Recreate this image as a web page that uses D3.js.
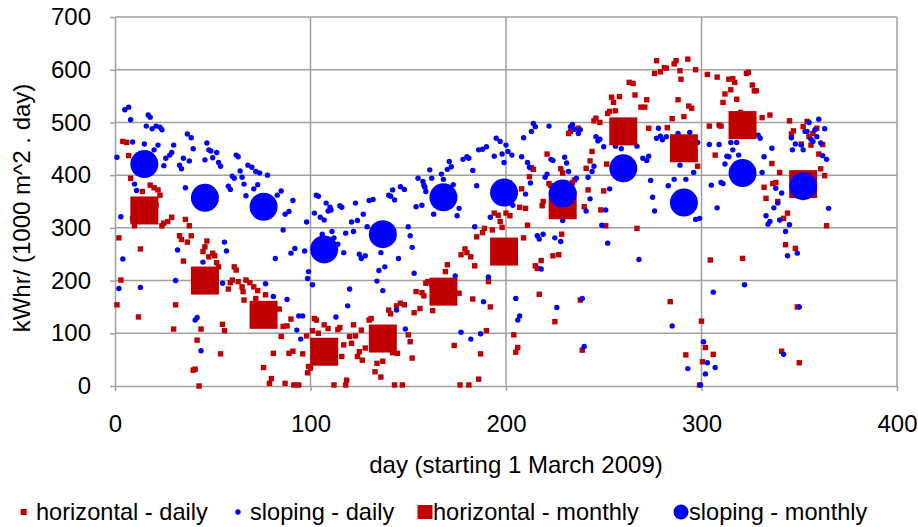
<!DOCTYPE html>
<html>
<head>
<meta charset="utf-8">
<script src="https://cdn.jsdelivr.net/npm/d3@7/dist/d3.min.js"></script>
<style>
  body { margin: 0; background: #fff; }
  text { font-family: Arial, "Liberation Sans", sans-serif; fill: #000; }
</style>
</head>
<body>
<svg width="918" height="527"></svg>
<script>

// monthly means, plotted at mid month (day 0 = 1 March 2009)
var monthDays = [15, 46, 76, 107, 137, 168, 199, 229, 260, 291, 321, 352];
var horizontalMonthly = [333, 200, 135, 65, 90, 179, 255, 343, 483, 451, 495, 383];
var slopingMonthly = [421, 357, 340, 259, 288, 358, 367, 365, 413, 348, 404, 379];

// daily readings [day, kWhr]
var horizontalDaily = [
  [1,154],[2,281],[3,201],[4,464],[6,462],[7,437],[8,394],[9,318],[10,304],[12,131],
  [13,260],[14,369],[18,381],[20,376],[21,343],[22,372],[23,362],[24,304],[25,309],[27,312],
  [29,320],[30,108],[31,154],[33,285],[34,278],[35,237],[36,316],[37,273],[38,304],[39,285],
  [40,30],[41,32],[42,87],[43,0],[44,108],[45,255],[46,264],[47,275],[48,245],[50,252],
  [51,247],[52,234],[53,226],[54,61],[55,117],[56,105],[58,184],[59,196],[60,201],[61,226],
  [62,220],[63,198],[65,188],[65.5,179],[66,163],[67,201],[69,196],[71,188],[72,166],[73,181],
  [76,35],[77,173],[79,5],[80,14],[81,62],[84,146],[85,94],[86,113],[87,5],[88,114],
  [89,62],[90,127],[91,66],[91.5,2],[94,2],[96,61],[98,95],[98.5,25],[99,37],[100,34],
  [101,105],[102,128],[103,125],[104,100],[107,116],[109,109],[112,2],[114,107],[115,111],[116,56],
  [117,78],[118,2],[118.5,11],[120,94],[121,81],[122,116],[123,95],[124,56],[125,65],[126,106],
  [126.5,49],[128,72],[130,125],[131,128],[133,27],[134,43],[136,17],[137,47],[140,144],[141,137],
  [142,63],[143,2],[144,152],[144.5,62],[146,157],[147,2],[148,154],[150,97],[151,84],[152,53],
  [153,139],[154,179],[156,147],[157,177],[158,171],[159,195],[160,198],[162,194],[162.5,143],[169,217],
  [170,230],[173,182],[173.5,77],[176,176],[176.5,2],[177,249],[179,260],[180,253],[181,2],[182,245],
  [183,165],[184,228],[185,283],[186,13],[187,61],[188,291],[189,299],[190,105],[191,198],[192,150],
  [193,296],[194,328],[196,324],[197,312],[198,301],[200,328],[202,323],[204,97],[205,64],[206,73],
  [207,339],[208,374],[209,281],[210,337],[211,305],[212,397],[213,414],[214,411],[215,228],[216,223],
  [217,174],[218,238],[218.5,342],[219,350],[221,440],[222,384],[223,380],[224,247],[225,122],[227,249],
  [228,412],[228.5,288],[229,404],[232,479],[233,483],[234,386],[235,391],[237,489],[238,163],[239,68],
  [240,340],[241,413],[242,372],[243,427],[244,445],[245,503],[246,508],[248,500],[248.5,334],[250,370],
  [251,304],[251.5,421],[252,517],[253,521],[254,548],[255,538],[256,522],[258,549],[263,576],[265,574],
  [266,552],[267,299],[269,529],[271,529],[272,543],[273,489],[276,593],[277,617],[279,596],[281,604],
  [282,603],[282.5,490],[284,160],[285,507],[286,611],[287,617],[288,543],[289,598],[289.5,582],[291,511],
  [292,59],[293,620],[293.5,531],[295,527],[297,600],[298,417],[299,2],[300,123],[300.5,46],[302,73],
  [303,591],[304,493],[304.5,239],[306,60],[307,438],[308,586],[309,495],[310,493],[311,538],[312,554],
  [314,582],[315,562],[316,583],[317,576],[318,544],[320,519],[321,242],[323,593],[324,595],[326,571],
  [327,560],[328,560],[331,509],[332,377],[333,356],[335,514],[336,422],[336.5,384],[338,386],[339,350],
  [340,405],[341,66],[342,318],[343,268],[344,328],[345,503],[346,478],[347,484],[348,261],[349,150],
  [350,44],[351,459],[352,492],[354,502],[355,473],[356,457],[357,479],[359,489],[360,440],[361,412],
  [362,458],[363,399],[364,304]
];

var slopingDaily = [
  [1,434],[2,185],[3,321],[4,241],[5,524],[7,529],[8,505],[9,463],[10,383],[11,371],
  [13,187],[15,459],[16,493],[17,514],[18,510],[19,488],[20,448],[21,493],[22,457],[23,491],
  [24,486],[25,418],[26,432],[28,438],[29,443],[30,457],[31,200],[32,258],[33,419],[34,412],
  [35,432],[36,376],[37,478],[38,427],[39,471],[40,450],[41,125],[42,130],[44,67],[45,235],
  [46,429],[47,461],[48,448],[49,446],[50,433],[52,443],[53,424],[54,417],[55,195],[56,273],
  [57,256],[58,379],[59,373],[60,398],[61,394],[62,438],[63,435],[64,408],[65,396],[66,383],
  [67,361],[68,419],[70,415],[71,374],[72,407],[73,382],[74,404],[77,194],[78,400],[81,170],
  [82,242],[83,362],[85,370],[86,296],[87,326],[88,164],[89,331],[90,252],[91,352],[92,261],
  [93,106],[94,133],[95,89],[96,133],[97,256],[98,311],[98.5,204],[99,217],[101,192],[102,328],
  [103,362],[104,360],[105,320],[106,288],[107,315],[108,347],[109,332],[110,339],[110.5,334],[111,293],
  [112,281],[113,131],[114,269],[115,342],[116,339],[117,253],[118,290],[119,152],[120,184],[121,311],
  [122,293],[123,347],[124,314],[125,250],[126,242],[127,326],[128,247],[129,302],[130,352],[132,354],
  [134,199],[135,219],[136,253],[137,181],[138,226],[140,362],[141,360],[142,372],[143,353],[144,144],
  [145,242],[146,378],[148,373],[148.5,108],[150,302],[151,285],[152,263],[153,214],[154,340],[155,394],
  [157,343],[157.5,388],[158,381],[158.5,377],[159,369],[161,410],[162,394],[163,326],[167,402],[168,392],
  [170,411],[171,426],[172,416],[173,382],[174,209],[175,323],[176,337],[177,102],[178,430],[180,435],
  [181,432],[182,89],[183,409],[184,302],[185,380],[186,448],[187,99],[188,449],[188.5,160],[190,454],
  [191,207],[192,320],[194,436],[195,470],[197,464],[198,440],[199,424],[200,457],[201,445],[203,438],
  [203.5,343],[205,166],[206,125],[207,133],[208,435],[209,471],[210,364],[211,424],[212,415],[212.5,385],
  [213,483],[214,498],[215,492],[216,285],[217,279],[218,222],[219,288],[220,396],[221,402],[222,493],
  [223,430],[224,428],[225,281],[226,149],[228,274],[229,314],[230,434],[231,423],[232,407],[233,492],
  [234,496],[235,487],[236,394],[237,479],[238,486],[239,166],[240,75],[241,332],[242,396],[243,355],
  [244,407],[245,417],[246,473],[247,465],[248,468],[249,305],[250,454],[251,334],[252,271],[253,374],
  [256,455],[259,450],[267,455],[268,240],[270,432],[272,428],[273,436],[274,390],[275,358],[276,332],
  [277,470],[278,489],[279,474],[280,467],[282,473],[283,380],[285,114],[286,392],[288,479],[289,419],
  [292,392],[293,33],[294,481],[296,405],[297,316],[298,462],[299,318],[299.5,2],[301,84],[302,23],
  [303,44],[304,458],[305,381],[306,178],[307,35],[308,338],[309,458],[310,386],[311,384],[312,421],
  [313,436],[314,435],[315,462],[316,448],[318,462],[319,438],[322,192],[329,476],[330,470],[331,405],
  [332,435],[333,323],[334,307],[335,312],[336,451],[337,338],[338,375],[339,347],[340,315],[341,366],
  [342,60],[343,293],[344,247],[345,306],[346,471],[346.5,448],[348,459],[349,252],[350,150],[351,457],
  [352,448],[353,483],[354,483],[355,500],[356,468],[357,464],[358,486],[359,473],[360,506],[361,461],
  [362,437],[363,488],[364,430],[365,337]
];

var seriesNames = ["horizontal - daily", "sloping - daily", "horizontal - monthly", "sloping - monthly"];
var xTicks = [0, 100, 200, 300, 400];
var yTicks = [0, 100, 200, 300, 400, 500, 600, 700];

var red = "#c00000", blue = "#0000ff", gridColor = "#a0a0a0";
var fontSize = "24px";

var svg = d3.select("svg");

var x = d3.scaleLinear().domain([0, 400]).range([115, 897]);
var y = d3.scaleLinear().domain([0, 700]).range([386, 17]);

// grid lines
svg.append("g")
  .selectAll("line")
  .data(yTicks.slice(1))
  .enter().append("line")
    .attr("x1", x(0)).attr("x2", x(400))
    .attr("y1", function(d) { return y(d); })
    .attr("y2", function(d) { return y(d); })
    .attr("stroke", gridColor).attr("stroke-width", 1.5);

svg.append("g")
  .selectAll("line")
  .data(xTicks.slice(1))
  .enter().append("line")
    .attr("x1", function(d) { return x(d); })
    .attr("x2", function(d) { return x(d); })
    .attr("y1", y(0)).attr("y2", y(700))
    .attr("stroke", gridColor).attr("stroke-width", 1.5);

// axes
var xAxis = svg.append("g")
  .attr("transform", "translate(0," + y(0) + ")")
  .call(d3.axisBottom(x).tickValues(xTicks).tickSize(5).tickSizeOuter(0).tickPadding(24));
var yAxis = svg.append("g")
  .attr("transform", "translate(" + x(0) + ",0)")
  .call(d3.axisLeft(y).tickValues(yTicks).tickSize(5).tickSizeOuter(0).tickPadding(19));

[xAxis, yAxis].forEach(function(ax) {
  ax.select(".domain").attr("stroke", gridColor).attr("stroke-width", 1.5);
  ax.selectAll(".tick line").attr("stroke", gridColor).attr("stroke-width", 1.5);
  ax.selectAll(".tick text")
    .attr("font-size", fontSize)
    .attr("font-family", "Arial, 'Liberation Sans', sans-serif")
    .attr("fill", "#000");
});

// axis titles
svg.append("text")
  .attr("x", 516).attr("y", 473)
  .attr("text-anchor", "middle")
  .attr("font-size", fontSize)
  .text("day (starting 1 March 2009)");

svg.append("text")
  .attr("transform", "translate(30,208) rotate(-90)")
  .attr("text-anchor", "middle")
  .attr("font-size", fontSize)
  .text("kWhr/ (1000 m^2 . day)");

// series
svg.append("g")
  .selectAll("rect")
  .data(horizontalDaily)
  .enter().append("rect")
    .attr("x", function(d) { return x(d[0]) - 2.7; })
    .attr("y", function(d) { return y(d[1]) - 2.7; })
    .attr("width", 5.4).attr("height", 5.4)
    .attr("fill", red);

svg.append("g")
  .selectAll("circle")
  .data(slopingDaily)
  .enter().append("circle")
    .attr("cx", function(d) { return x(d[0]); })
    .attr("cy", function(d) { return y(d[1]); })
    .attr("r", 2.7)
    .attr("fill", blue);

svg.append("g")
  .selectAll("rect")
  .data(horizontalMonthly)
  .enter().append("rect")
    .attr("x", function(d, i) { return x(monthDays[i]) - 14; })
    .attr("y", function(d) { return y(d) - 14; })
    .attr("width", 28).attr("height", 28)
    .attr("fill", red);

svg.append("g")
  .selectAll("circle")
  .data(slopingMonthly)
  .enter().append("circle")
    .attr("cx", function(d, i) { return x(monthDays[i]); })
    .attr("cy", function(d) { return y(d); })
    .attr("r", 14)
    .attr("fill", blue);

// legend
var legendX = [23.7, 238, 425, 681];
var textX = [36, 250, 433, 689];
var legendY = 512;
var leg = svg.append("g");

leg.append("rect").attr("x", legendX[0] - 3).attr("y", legendY - 3)
  .attr("width", 6).attr("height", 6).attr("fill", red);
leg.append("circle").attr("cx", legendX[1]).attr("cy", legendY).attr("r", 2.7).attr("fill", blue);
leg.append("rect").attr("x", legendX[2] - 7.5).attr("y", legendY - 7)
  .attr("width", 15).attr("height", 14).attr("fill", red);
leg.append("circle").attr("cx", legendX[3]).attr("cy", legendY).attr("r", 7.5).attr("fill", blue);

leg.selectAll("text")
  .data(seriesNames)
  .enter().append("text")
    .attr("x", function(d, i) { return textX[i]; })
    .attr("y", 520)
    .attr("font-size", "23.6px")
    .text(function(d) { return d; });

</script>
</body>
</html>
